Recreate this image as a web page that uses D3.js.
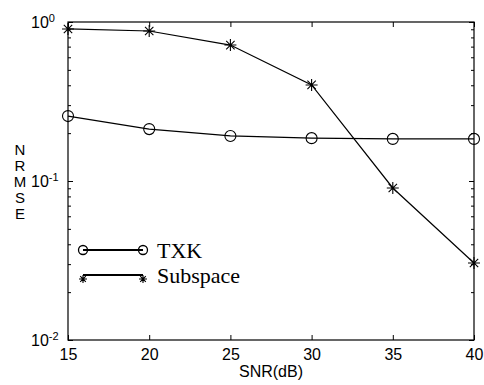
<!DOCTYPE html>
<html>
<head>
<meta charset="utf-8">
<script src="https://cdn.jsdelivr.net/npm/d3@7"></script>
<style>
body { margin: 0; background: #fff; }
</style>
</head>
<body>
<svg id="chart" width="484" height="385"></svg>
<script>
// data
const snr = [15, 20, 25, 30, 35, 40];
const txk = [0.256, 0.212, 0.192, 0.186, 0.184, 0.184];
const subspace = [0.904, 0.878, 0.716, 0.402, 0.0904, 0.0305];
const xTicks = [15, 20, 25, 30, 35, 40];
const yMajor = [0.01, 0.1, 1];
const yExp = ["-2", "-1", "0"];
const legendNames = ["TXK", "Subspace"];

const margin = { top: 22, right: 10, bottom: 45, left: 68 },
	w = 484 - margin.left - margin.right,
	h = 385 - margin.top - margin.bottom;

const sans = "'Liberation Sans', Arial, sans-serif";

const svg = d3.select("#chart");
const g = svg.append("g")
	.attr("transform", "translate(" + margin.left + "," + margin.top + ")");

const x = d3.scaleLinear().domain([15, 40]).range([0, w]);
const y = d3.scaleLog().domain([0.01, 1]).range([h, 0]);

// minor ticks 2..9 per decade
const yMinor = [];
[0.01, 0.1].forEach(d => { for (let k = 2; k < 10; k++) yMinor.push(d * k); });

// box
g.append("rect")
	.attr("width", w).attr("height", h)
	.attr("fill", "none").attr("stroke", "#000").attr("stroke-width", 1.2);

// x ticks, inward on bottom and top
g.append("g").attr("transform", "translate(0," + h + ")")
	.call(d3.axisBottom(x).tickValues(xTicks).tickSizeInner(-5).tickSizeOuter(0).tickPadding(9))
	.call(a => a.select(".domain").remove());
g.append("g")
	.call(d3.axisTop(x).tickValues(xTicks).tickSizeInner(-5).tickSizeOuter(0).tickFormat(""))
	.call(a => a.select(".domain").remove());

// y ticks, left and right
g.append("g")
	.call(d3.axisLeft(y).tickValues(yMinor).tickSizeInner(-3).tickSizeOuter(0).tickFormat(""))
	.call(a => a.select(".domain").remove());
g.append("g").attr("transform", "translate(" + w + ",0)")
	.call(d3.axisRight(y).tickValues(yMinor).tickSizeInner(-3).tickSizeOuter(0).tickFormat(""))
	.call(a => a.select(".domain").remove());
g.append("g").attr("transform", "translate(" + w + ",0)")
	.call(d3.axisRight(y).tickValues(yMajor).tickSizeInner(-5).tickSizeOuter(0).tickFormat(""))
	.call(a => a.select(".domain").remove());

const yAx = g.append("g")
	.call(d3.axisLeft(y).tickValues(yMajor).tickSizeInner(-5).tickSizeOuter(0).tickFormat(""))
	.call(a => a.select(".domain").remove());

// 10^n labels
yAx.selectAll(".tick").each(function (d, i) {
	const t = d3.select(this).append("text")
		.attr("x", -37).attr("y", 0).attr("dy", "0.35em")
		.attr("text-anchor", "start")
		.attr("fill", "#000");
	t.append("tspan").text("10");
	t.append("tspan").attr("dy", "-0.6em").style("font-size", "11px").text(yExp[i]);
});

svg.selectAll(".tick line").attr("stroke", "#000");
svg.selectAll(".tick text")
	.style("font-family", sans)
	.style("font-size", "16px")
	.attr("fill", "#000");

// axis titles
svg.append("text")
	.attr("x", margin.left + w / 2).attr("y", 377)
	.attr("text-anchor", "middle")
	.style("font-family", sans)
	.style("font-size", "16px")
	.text("SNR(dB)");

const yl = svg.append("text")
	.attr("text-anchor", "middle")
	.style("font-family", sans)
	.style("font-size", "15px");
"NRMSE".split("").forEach((c, i) => {
	yl.append("tspan").attr("x", 20).attr("y", 155 + i * 16).text(c);
});

// lines
const line = d3.line().x((d, i) => x(snr[i])).y(d => y(d));
g.append("path").datum(txk).attr("d", line)
	.attr("fill", "none").attr("stroke", "#000").attr("stroke-width", 1.2);
g.append("path").datum(subspace).attr("d", line)
	.attr("fill", "none").attr("stroke", "#000").attr("stroke-width", 1.2);

// markers
function star(r) {
	const s = r * 0.7;
	return "M" + (-r) + ",0L" + r + ",0M0," + (-r) + "L0," + r +
		"M" + (-s) + "," + (-s) + "L" + s + "," + s + "M" + (-s) + "," + s + "L" + s + "," + (-s);
}
g.selectAll(".circ").data(txk).enter().append("circle")
	.attr("cx", (d, i) => x(snr[i])).attr("cy", d => y(d)).attr("r", 5.5)
	.attr("fill", "none").attr("stroke", "#000").attr("stroke-width", 1.1);
g.selectAll(".star").data(subspace).enter().append("path")
	.attr("transform", (d, i) => "translate(" + x(snr[i]) + "," + y(d) + ")")
	.attr("d", star(6))
	.attr("fill", "none").attr("stroke", "#000").attr("stroke-width", 1.1);

// legend
const leg = svg.append("g");
const lx1 = 83, lx2 = 143, ly = [250, 275];
legendNames.forEach((name, i) => {
	leg.append("line").attr("x1", lx1).attr("x2", lx2).attr("y1", ly[i]).attr("y2", ly[i])
		.attr("stroke", "#000").attr("stroke-width", 2);
	if (i === 0) {
		[lx1, lx2].forEach(px => leg.append("circle").attr("cx", px).attr("cy", ly[i]).attr("r", 4.5)
			.attr("fill", "none").attr("stroke", "#000").attr("stroke-width", 1.3));
	} else {
		[lx1, lx2].forEach(px => leg.append("path")
			.attr("transform", "translate(" + px + "," + (ly[i] + 4) + ")")
			.attr("d", star(4)).attr("fill", "none").attr("stroke", "#000").attr("stroke-width", 1.1));
	}
	leg.append("text").attr("x", 157).attr("y", ly[i]).attr("dy", "0.35em")
		.style("font-family", "'Liberation Serif', 'Times New Roman', serif")
		.style("font-size", "22px")
		.text(name);
});
</script>
</body>
</html>
